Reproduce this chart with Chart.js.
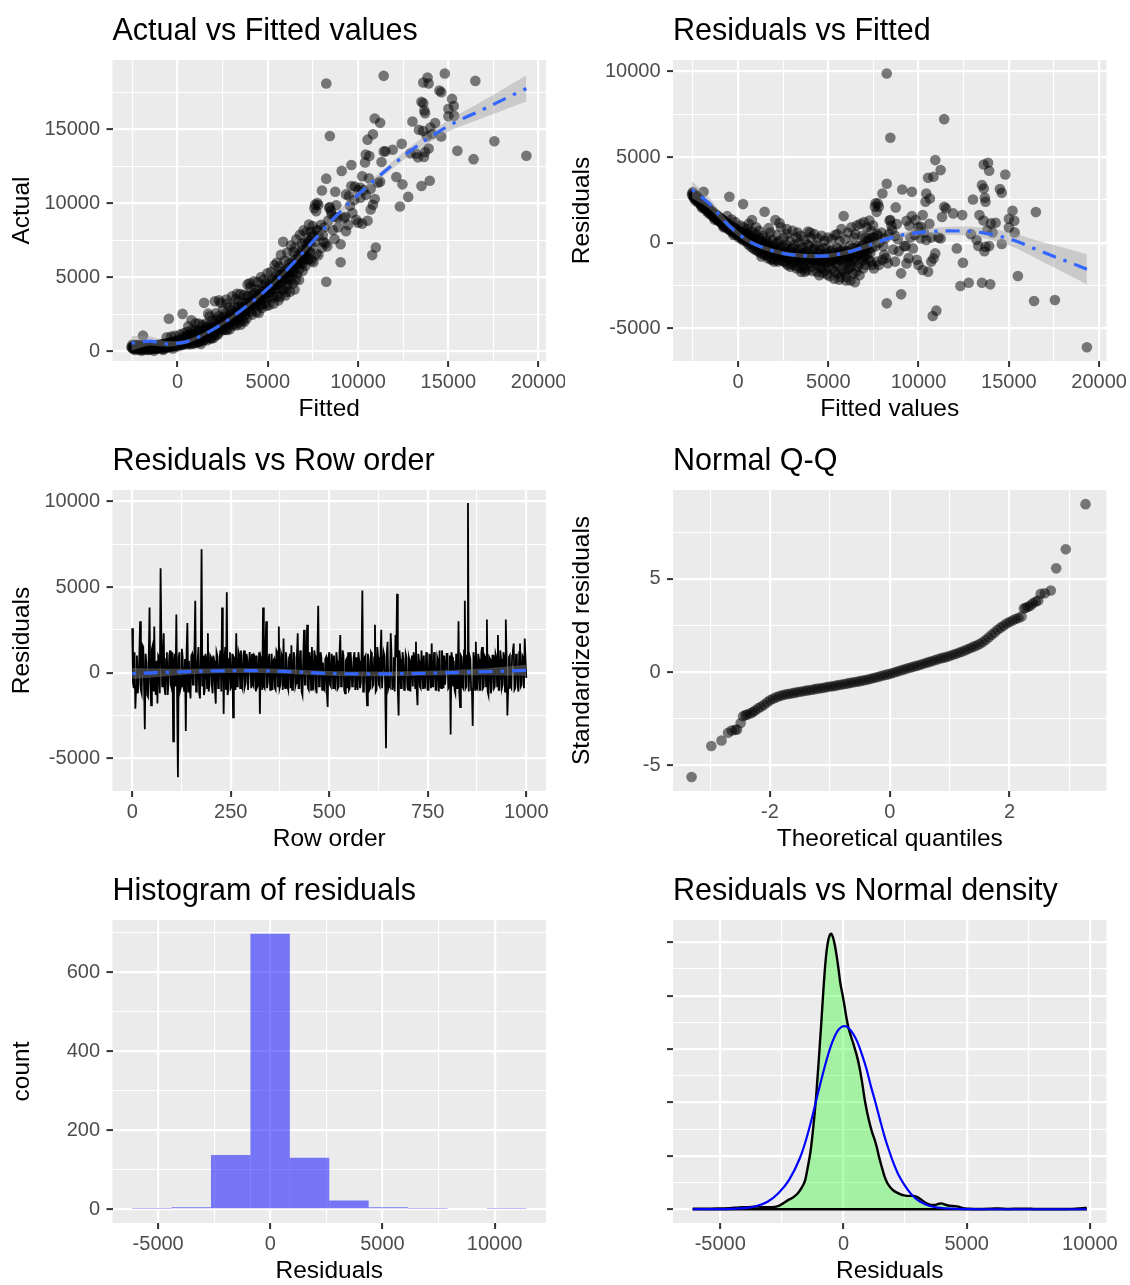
<!DOCTYPE html>
<html>
<head>
<meta charset="utf-8">
<script src="https://cdn.jsdelivr.net/npm/chart.js@4/dist/chart.umd.min.js"></script>
<style>
html, body { margin: 0; padding: 0; background: #fff; width: 1130px; height: 1285px; overflow: hidden; }
canvas { position: absolute; }
</style>
</head>
<body>
<canvas id="c1" width="565" height="430" style="left:0;top:0"></canvas>
<canvas id="c2" width="565" height="430" style="left:565px;top:0"></canvas>
<canvas id="c3" width="565" height="430" style="left:0;top:430px"></canvas>
<canvas id="c4" width="565" height="430" style="left:565px;top:430px"></canvas>
<canvas id="c5" width="565" height="430" style="left:0;top:860px"></canvas>
<canvas id="c6" width="565" height="430" style="left:565px;top:860px"></canvas>
<script>
// ---- Data ----

// (fitted, residual) pairs, grouped by fitted range
const residBandA = [[-2550,2850],[-2500,2950],[-2460,2700],[-2420,2800],[-2380,2600],[-2330,2750],[-2280,2500],[-2240,2650],
  [-2190,2420],[-2150,2560],[-2100,2300],[-2060,2450],[-2010,2200],[-2000,2050],[-1960,2350],[-1910,2973],[-1900,2100],
  [-1850,2250],[-1800,1980],[-1760,2150],[-1700,1900],[-1660,2050],[-1610,1780],[-1560,1950],[-1510,1700],[-1460,1850],
  [-1420,1600],[-1370,1780],[-1320,1500],[-1300,1350],[-1270,1680],[-1220,1420],[-1170,1600],[-1120,1330],[-1070,1520],
  [-1020,1250],[-970,1430],[-920,1150],[-870,1350],[-820,1080],[-800,900],[-770,1280],[-720,1000],[-670,1200],[-620,920],
  [-600,1550],[-570,1120],[-520,850],[-478,2681],[-470,1050],[-420,780],[-370,980],[-350,1350],[-320,700],[-270,900],
  [-250,450],[-220,620],[-170,850],[-150,1200],[-120,550],[-70,780],[-20,480]];
const residBandB = [[30,700],[80,380],[130,1000],[180,300],[230,650],[279,2254],[280,150],[330,900],[380,220],[430,550],
  [480,50],[530,800],[580,-100],[600,1100],[630,450],[680,150],[730,-250],[776,1321],[780,650],[830,-50],[880,300],
  [930,-400],[980,500],[1000,900],[1030,-150],[1080,200],[1130,-500],[1180,700],[1230,-250],[1280,100],[1300,-800],
  [1330,-600],[1380,400],[1430,-350],[1473,1807],[1480,-50],[1530,-700],[1580,300],[1630,-450],[1680,0],[1700,850],
  [1730,-800],[1780,600],[1830,-300],[1880,-950],[1930,150],[1980,-600],[2000,-1100],[2030,-100],[2069,1321],[2080,-1000],
  [2130,450],[2180,-400],[2230,-1100],[2280,100],[2300,1150],[2330,-700],[2380,900],[2430,-200],[2480,-1050]];
const residBandC = [[2530,300],[2580,-800],[2630,-300],[2680,-1200],[2700,800],[2730,500],[2780,-600],[2830,-1000],
  [2880,100],[2900,-1400],[2930,-400],[2980,-1250],[3030,700],[3080,-800],[3130,-100],[3180,-1350],[3230,300],[3280,-600],
  [3300,600],[3330,-1100],[3380,0],[3430,-1450],[3480,400],[3500,-1700],[3530,-800],[3580,-300],[3630,-1500],[3680,150],
  [3700,-1700],[3730,-1000],[3780,-500],[3830,-1600],[3880,650],[3930,-200],[3980,-1200],[4000,600],[4030,300],[4080,-800],
  [4130,-1650],[4180,-400],[4230,500],[4280,-1100],[4330,-150],[4380,-1700],[4430,250],[4480,-900],[4500,-1900],[4530,-400],
  [4580,-1450],[4630,400],[4680,-1750],[4730,-700],[4780,100],[4830,-1200],[4880,-300],[4930,-1850],[4980,300]];
const residBandD = [[5030,-1000],[5080,-1950],[5130,-500],[5180,200],[5230,-1500],[5280,-800],[5330,-2100],[5380,450],
  [5430,-1200],[5480,-300],[5500,500],[5530,-1800],[5580,-700],[5600,-2150],[5630,100],[5680,-2000],[5730,800],[5780,-1100],
  [5830,-400],[5851,1554],[5880,-1700],[5930,200],[5980,-2200],[6000,-2000],[6030,-900],[6080,600],[6130,-1500],[6180,-200],
  [6200,-1200],[6230,-2200],[6280,900],[6330,-1000],[6380,-1800],[6430,300],[6480,-2300],[6500,500],[6530,-600],[6580,1000],
  [6630,-1400],[6680,-200],[6730,-1900],[6780,1100],[6830,-900],[6880,400],[6930,-1500],[6980,1200],[7000,-800],[7030,-400],
  [7080,-1300],[7130,900],[7180,100],[7230,-1000],[7280,1300],[7330,-600],[7380,700],[7430,-1300],[7480,1000],[7530,-1500],
  [7580,2100],[7620,2300],[7680,1800],[7700,-1100],[7750,400]];
const residBandExtra = [[-2520,2750],[-2440,2600],[-2350,2450],[-2270,2700],[-2200,2350],[-2120,2500],[-2040,2150],
  [-1950,2280],[-1880,2000],[-1790,2150],[-1720,1820],[-1640,1950],[-1580,1680],[-1490,1800],[-1400,1550],[-1340,1700],
  [-1250,1450],[-1190,1580],[-1100,1280],[-1040,1450],[-950,1200],[-900,1350],[-830,1000],[-750,1180],[-700,900],
  [-640,1100],[-560,820],[-500,1000],[-440,720],[-390,900],[-300,600],[-200,800],[-100,450],[-40,700],[50,300],[150,600],
  [250,200],[350,500],[450,100],[550,550],[650,-50],[750,350],[850,-300],[950,150],[1050,-450],[1150,300],[1250,-600],
  [1350,0],[1450,-700],[1550,100],[1650,-900],[1750,-200],[1850,-1000],[1950,-300],[2050,-800],[2150,0],[2250,-1000],
  [2350,-300],[2450,-800],[2550,-1100],[2650,-100],[2750,-1300],[2850,-500],[2950,-900],[3050,-300],[3150,-1100],
  [3250,-1500],[3350,-400],[3450,-900],[3550,-1200],[3650,-600],[3750,-1300],[3850,-100],[3950,-900],[4050,-1400],
  [4150,-1000],[4250,-300],[4350,-1300],[4450,-600],[4550,-1100],[4650,-1500],[4750,-300],[4850,-1600],[4950,-800],
  [5050,-1400],[5150,-1100],[5250,-400],[5350,-1700],[5450,-900],[5550,-1300],[5650,-500],[5750,-1600],[5850,-1000],
  [5950,-500],[6050,-1600],[6150,-800],[6250,-1400],[6350,-300],[6450,-1100],[6550,-1700],[6650,-700],[6750,-1200],
  [6850,-200],[6950,-1000],[7050,300],[7150,-700],[7250,200],[7350,-1100],[7450,300]];
const residBandCore = [[-2400,2700],[-2300,2550],[-2150,2400],[-2050,2300],[-1750,2050],[-1550,1850],[-1350,1600],
  [-1150,1400],[-950,1300],[-750,1100],[-550,950],[-350,800],[-150,650],[0,550],[200,400],[400,300],[600,200],[800,100],
  [900,-100],[1020,-100],[1120,-250],[1220,-50],[1320,-300],[1420,-150],[1520,-400],[1620,-250],[1720,-500],[1820,-350],
  [1920,-600],[2020,-450],[2120,-700],[2220,-500],[2320,-800],[2420,-600],[2520,-750],[2620,-550],[2720,-850],[2820,-650],
  [2920,-800],[3020,-950],[3120,-600],[3220,-900],[3320,-750],[3420,-1000],[3520,-600],[3620,-900],[3720,-750],
  [3820,-1000],[3920,-650],[4020,-950],[4120,-700],[4220,-1050],[4320,-800],[4420,-1000],[4520,-700],[4620,-1100],
  [4720,-850],[4820,-1000],[4920,-600],[5020,-1100],[5120,-800],[5220,-1000],[5320,-600],[5420,-950],[5520,-700],
  [5620,-1000],[5720,-500],[5820,-900],[5920,-700],[6020,-1100],[6120,-500],[6220,-800],[6320,-600],[6420,-900],
  [6520,-300],[6620,-700],[6720,-400],[6820,-600],[6920,-100],[7020,-500],[7120,-200],[7220,-400],[7320,100],[7420,-300],
  [7520,300],[7620,-200],[7720,500],[7820,0]];
const residSparse = [[7742,2293],[7802,2099],[7802,-1302],[7950,600],[8000,2876],[8000,-1000],[8050,-200],[8100,-700],
  [8140,253],[8200,-900],[8239,3439],[8239,9870],[8239,-3536],[8300,-1200],[8350,500],[8400,1300],[8438,6120],[8438,1321],
  [8500,1000],[8537,738],[8600,-400],[8700,-1100],[8700,400],[8736,2060],[8796,1088],[8850,200],[8900,-500],[9035,-3012],
  [9035,-1788],[9094,3109],[9200,-200],[9293,-194],[9333,-1205],[9333,1282],[9450,-900],[9500,1000],[9550,300],[9631,2973],
  [9631,1554],[9691,-330],[9790,447],[9830,1321],[9900,-1000],[10000,900],[10000,-1300],[10129,253],[10129,933],
  [10229,-1593],[10229,1613],[10300,600],[10388,2390],[10428,2876],[10428,155],[10527,3789],[10527,-1690],[10600,1100],
  [10627,2584],[10700,-1100],[10700,300],[10786,-4275],[10826,3847],[10826,-913],[10925,4819],[10925,-622],[10985,-3964],
  [11100,300],[11224,4236],[11224,253],[11300,1500],[11420,7210],[11423,2099],[11523,2001],[11920,1710],[12120,-330],
  [12319,-2526],[12418,1613],[12458,-1166],[12777,-2332],[12900,500],[13014,2526],[13214,155],[13313,-194],[13373,1613],
  [13512,3361],[13512,-2332],[13600,1300],[13612,4566],[13612,3167],[13650,-500],[13671,2623],[13711,2390],[13711,-233],
  [13811,738],[13850,4663],[13910,4197],[13910,-194],[13970,-2429],[14010,1127],[14100,600],[14268,1166],[14508,3128],
  [14607,2914],[14607,-78],[14806,3983],[15005,1399],[15005,894],[15204,1865],[15303,1282],[15323,602],[15502,-1943],
  [16398,-3400],[16498,1788],[17552,-3342],[19323,-6101]];

// loess smooth of residuals on fitted, with standard-error half width
const smoothFitted = [-2550, -2000, -1500, -1000, -500, 0, 500, 1000, 1500, 2500, 3500, 4500, 5500, 6500,
  7500, 8500, 9500, 10500, 11500, 12500, 13500, 14500, 15500, 16500, 17500, 18500, 19323];
const smoothResid = [3100, 2650, 2200, 1580, 1000, 550, 150, -120, -330, -620, -750, -780, -680, -420,
  -60, 300, 520, 640, 690, 680, 590, 380, 60, -380, -800, -1200, -1550];
const smoothSe = [500, 380, 300, 230, 180, 150, 130, 120, 120, 120, 120, 120, 120, 130,
  140, 150, 180, 200, 230, 260, 300, 350, 420, 520, 650, 780, 880];

// residuals by row order: rows 0, 4, 8, ... and rows 2, 6, 10, ...
const rowStep = 4;
const rowResid = [
  2600, -900, -2100, 1000, -700, 3000, -1200, 1500, -3300, 600,
  -1400, 3800, -1900, 1600, 2700, -1300, -1800, 900, 6100, -800,
  2300, -1300, 1200, -600, 1300, -900, -4000, 1100, 3400, -6100,
  1200, -800, 900, -1100, -3400, 2900, 700, -1500, 1100, -700,
  4200, -900, 1500, -1500, 7200, 1000, -1000, 800, 2300, -700,
  900, -1200, 700, -1800, 1000, -600, 1300, 3800, -2400, 1500,
  4700, -1000, 1200, -800, -2600, 800, 2300, -700, 1000, 1300,
  -900, 1300, -600, 800, -1000, 600, 1100, -800, 900, 1000,
  -700, -2400, 700, 3800, -900, 3000, -600, 1100, -800, -1000,
  800, -1000, 1200, 2700, -700, 900, 2000, -900, 700, -1000,
  1100, 1600, -800, 900, -600, 2300, -900, 1000, -1300, 2500,
  -700, 2800, -1000, 800, 1500, -900, 1000, -1200, 3900, -700,
  900, 600, -1000, 900, -2000, 1200, -800, 800, 1000, -900,
  700, -800, 2200, -600, 1000, -1200, 800, 1200, -900, 600,
  -700, 1200, 900, -1000, 700, -600, 4800, -800, 1000, -1900,
  800, -900, 1100, -700, 2800, -1000, 900, -800, 2500, -900,
  1000, -4400, 1800, -700, 2300, -1000, 900, 2200, 4600, -2500,
  800, -900, 800, -700, 900, -1000, 700, 600, -800, 900,
  1800, -1900, 700, -900, 600, 1000, -800, 900, -1000, 800,
  1700, -800, 900, -1000, 700, 1300, -900, 800, 1000, -700,
  1100, -800, -3600, 900, 700, -1200, -900, 3000, -2000, 900,
  -900, 4200, -800, 9900, 1000, -1000, -3100, 800, 1800, -900,
  800, -1000, 1500, -800, 900, 3100, -1300, 800, -900, 1000,
  -800, 900, 2200, -1000, 800, -700, 900, 3100, -2500, 900,
  -800, 1000, 1700, -900, 800, -1100, 1700, -700, 900, 2000,
  -300];
const rowResidMid = [
  -600, 1200, -800, -1200, 900, -1000, 1600, -700, 1100, -1300,
  900, -700, 1400, -1100, -900, 700, 1000, -1200, 2000, 1100,
  -900, 800, -1300, 1000, -700, 1200, 600, -800, -1500, 900,
  -1000, 1400, -700, 800, 1200, -1100, -900, 1000, -700, 1300,
  -1100, 600, -1200, 900, -800, -1300, 1100, -900, -1100, 1000,
  -700, 1000, -1000, 1200, -900, 900, -1100, 1600, 700, -1000,
  -1300, 800, -900, 1100, 900, -1000, -800, 1200, -900, -700,
  1000, -800, 1100, -1000, 1200, -900, -700, 1000, -1100, -800,
  1200, 900, -1000, -800, 1300, -900, 800, -1000, 1100, 700,
  -900, 1300, -800, -900, 1100, -1000, -700, 1200, -800, 900,
  -900, -1000, 1200, -800, 1000, -900, 1300, -1100, 900, -700,
  1100, -900, 1200, -1000, -800, 1300, -900, 1000, -800, 1200,
  -1000, -900, 800, -1200, 900, -700, 1100, -900, -800, 1200,
  -900, 1100, -800, 1300, -1000, 700, -900, -1000, 1200, -800,
  900, -1000, -700, 1200, -900, 1000, -1100, 900, -700, 1100,
  -1000, 1200, -800, 900, -1100, 1500, -700, 1000, -900, 1200,
  -800, 1100, -900, -800, 1000, -700, -1100, 900, -1000, 1300,
  -900, 1200, -1000, 1100, -800, 900, -1100, 1000, 1200, -900,
  -1000, 1100, -800, 1300, -900, -700, 1200, -1000, 1100, -900,
  -800, 1200, -1000, 900, -1100, -800, 1300, -900, -700, 1100,
  -900, 1000, 1200, -800, -1000, 1100, -900, -1200, 1000, -800,
  1300, -900, 1000, -1100, 800, -900, 1200, -1000, -800, 1100,
  -1000, 1200, -900, 1000, -800, -1100, 900, -1200, 1000, -900,
  1100, -800, -1000, 1300, -900, 1200, -1100, 800, -900, 1000,
  -900, 1300, -1000, 1100, -700, 1200, -800, 1000, -900, 800];
const rowSmoothX = [0, 100, 200, 300, 400, 500, 600, 700, 800, 900, 1000];
const rowSmoothY = [-50, 30, 100, 120, 60, -40, -70, -50, 0, 60, 140];
const rowSmoothSe = [320, 200, 150, 140, 140, 140, 140, 140, 150, 200, 320];

// Normal Q-Q: (theoretical quantile, standardized residual)
const qqPoints = [[-3.31,-5.63],[-2.98,-3.97],[-2.81,-3.67],[-2.70,-3.26],[-2.64,-3.14],[-2.58,-3.10],[-2.55,-3.08],
  [-2.49,-2.73],[-2.45,-2.37],[-2.41,-2.31],[-2.38,-2.28],[-2.33,-2.22],[-2.29,-2.16],[-2.25,-2.07],
  [-2.20,-1.95],[-2.15,-1.86],[-2.10,-1.76],[-2.05,-1.63],[-2.00,-1.52],[-1.95,-1.43],[-1.90,-1.36],[-1.85,-1.30],
  [-1.80,-1.25],[-1.75,-1.21],[-1.70,-1.18],[-1.65,-1.15],[-1.60,-1.12],[-1.55,-1.09],[-1.50,-1.06],[-1.45,-1.03],
  [-1.40,-1.00],[-1.35,-0.98],[-1.30,-0.95],[-1.25,-0.92],[-1.20,-0.89],[-1.15,-0.87],[-1.10,-0.84],[-1.05,-0.81],
  [-1.00,-0.78],[-0.95,-0.76],[-0.90,-0.73],[-0.85,-0.70],[-0.80,-0.67],[-0.75,-0.64],[-0.70,-0.61],[-0.65,-0.58],
  [-0.60,-0.55],[-0.55,-0.52],[-0.50,-0.49],[-0.45,-0.46],[-0.40,-0.43],[-0.35,-0.39],[-0.30,-0.35],[-0.25,-0.31],
  [-0.20,-0.27],[-0.15,-0.22],[-0.10,-0.18],[-0.05,-0.14],[0.00,-0.10],[0.05,-0.05],[0.10,0.00],[0.15,0.05],
  [0.20,0.10],[0.25,0.15],[0.30,0.20],[0.35,0.24],[0.40,0.29],[0.45,0.33],[0.50,0.38],[0.55,0.43],[0.60,0.48],
  [0.65,0.53],[0.70,0.58],[0.75,0.63],[0.80,0.68],[0.85,0.73],[0.90,0.77],[0.95,0.81],[1.00,0.86],[1.05,0.92],
  [1.10,0.97],[1.15,1.03],[1.20,1.09],[1.25,1.15],[1.30,1.22],[1.35,1.29],[1.40,1.36],[1.45,1.42],[1.50,1.50],
  [1.55,1.60],[1.60,1.72],[1.65,1.85],[1.70,1.99],[1.75,2.12],[1.80,2.27],[1.85,2.38],[1.90,2.48],[1.95,2.60],
  [2.00,2.68],[2.05,2.76],[2.10,2.84],[2.15,2.90],[2.20,2.98],[2.24,3.40],[2.27,3.45],[2.31,3.50],[2.35,3.56],
  [2.39,3.69],[2.44,3.78],[2.48,3.83],[2.52,4.19],[2.59,4.22],[2.69,4.37],[2.78,5.56],[2.94,6.58],[3.27,9.00]];

// histogram (10 bins)
const histCenters = [-5280, -3523, -1766, -9, 1748, 3505, 5262, 7019, 8776, 10533];
const histCounts = [1, 5, 137, 697, 130, 22, 5, 1, 0, 1];

// kernel density of residuals and fitted normal density (units of 1e-4)
const densityPts = [[-6117,0.01],[-5500,0.01],[-5000,0.015],[-4600,0.02],[-4250,0.035],[-3900,0.04],[-3500,0.05],
  [-3200,0.04],[-2900,0.04],[-2650,0.06],[-2450,0.11],[-2250,0.17],[-2050,0.22],[-1850,0.30],[-1700,0.40],[-1550,0.55],
  [-1450,0.78],[-1330,1.10],[-1220,1.55],[-1110,2.10],[-1000,2.80],[-890,3.55],[-800,4.20],[-715,4.70],[-640,4.98],
  [-560,5.13],[-496,5.16],[-430,5.10],[-350,4.95],[-277,4.75],[-200,4.50],[-131,4.25],[-50,4.05],[29,3.85],[110,3.62],
  [204,3.40],[300,3.25],[423,3.07],[530,2.90],[642,2.68],[750,2.40],[861,2.06],[970,1.80],[1080,1.58],[1170,1.43],
  [1270,1.30],[1360,1.15],[1445,0.98],[1550,0.80],[1664,0.62],[1770,0.50],[1883,0.42],[2030,0.35],[2175,0.31],
  [2320,0.28],[2467,0.26],[2650,0.25],[2832,0.25],[2980,0.23],[3124,0.19],[3270,0.14],[3416,0.10],[3560,0.08],
  [3708,0.08],[3850,0.10],[3960,0.11],[4100,0.09],[4250,0.07],[4450,0.06],[4657,0.05],[4850,0.02],[5100,0.01],
  [5500,0.005],[6000,0.01],[6300,0.015],[6700,0.005],[7100,0.01],[7400,0.012],[7800,0.004],[8300,0.003],[8800,0.003],
  [9300,0.006],[9700,0.02],[9876,0.025]];
const normalPts = [[-6117,0],[-5000,0.003],[-4500,0.008],[-4000,0.02],[-3518,0.06],[-3080,0.14],[-2642,0.30],
  [-2204,0.55],[-1766,0.96],[-1550,1.25],[-1328,1.62],[-1100,2.05],[-890,2.44],[-670,2.82],[-453,3.13],[-250,3.33],
  [-60,3.42],[58,3.43],[200,3.40],[400,3.28],[569,3.13],[750,2.90],[934,2.63],[1100,2.33],[1299,2.00],[1480,1.68],
  [1664,1.37],[1850,1.10],[2029,0.87],[2250,0.63],[2467,0.46],[2700,0.31],[2905,0.21],[3120,0.14],[3343,0.09],
  [3600,0.05],[3927,0.025],[4400,0.01],[5000,0.003],[6000,0],[9876,0]];

// ---- Styling ----
const FONT = "'Liberation Sans', Arial, Helvetica, sans-serif";
Chart.defaults.font.family = FONT;

const SMOOTH_BLUE = '#3366FF';
const RIBBON = 'rgba(153, 153, 153, 0.4)';
const POINT_FILL = 'rgba(0, 0, 0, 0.5)';

// panel geometry (columns / rows)
const LEFT_COL = { areaLeft: 112.5, padRight: 19, yTitlePad: 7.3 };
const RIGHT_COL = { areaLeft: 108, padRight: 23.5, yTitlePad: 2.3 };
const ROW_UPPER = { xHeight: 69, xLabelPad: 3, xTitlePad: 6.5 };
const ROW_LOWER = { xHeight: 67, xLabelPad: 3.5, xTitlePad: 3.6 };

// grey panel background
const panelBg = {
    id: 'panelBg',
    beforeDraw(chart) {
        const { ctx, chartArea: a } = chart;
        ctx.save();
        ctx.fillStyle = '#EBEBEB';
        ctx.fillRect(a.left, a.top, a.right - a.left, a.bottom - a.top);
        ctx.restore();
    }
};

const isMajor = (v, majors) => majors.some(m => Math.abs(m - v) < 1e-6);

function makeScale(position, o) {
    const all = o.majors.concat(o.minors).filter(v => v >= o.min && v <= o.max).sort((a, b) => a - b);
    const major = c => !!(c.tick && isMajor(c.tick.value, o.majors));
    return {
        type: 'linear',
        position: position,
        min: o.min,
        max: o.max,
        offset: false,
        afterBuildTicks: s => { s.ticks = all.map(v => ({ value: v })); },
        afterFit: s => {
            if (position === 'left') s.width = o.size; else s.height = o.size;
            s.paddingLeft = 0; s.paddingRight = 0; s.paddingTop = 0; s.paddingBottom = 0;
        },
        border: { display: false },
        grid: {
            offset: false,
            color: '#FFFFFF',
            lineWidth: c => major(c) ? 2.2 : 1.1,
            drawTicks: true,
            tickLength: 6,
            tickWidth: 2,
            tickColor: c => major(c) ? '#333333' : 'rgba(0,0,0,0)'
        },
        ticks: {
            autoSkip: false,
            maxRotation: 0,
            padding: o.labelPad,
            color: '#4D4D4D',
            font: { family: FONT, size: 20 },
            callback: v => (o.labels !== false && isMajor(v, o.majors)) ? String(v) : ''
        },
        title: {
            display: true,
            text: o.title,
            color: '#000000',
            font: { family: FONT, size: 24.5 },
            padding: { top: o.titlePad, bottom: o.titlePad }
        }
    };
}

function buildChart(id, col, row, title, type, datasets, xOpt, yOpt) {
    return new Chart(document.getElementById(id), {
        type: type,
        data: { datasets: datasets },
        options: {
            responsive: false,
            animation: false,
            events: [],
            layout: { padding: { left: 0, top: 0, bottom: 0, right: col.padRight } },
            plugins: {
                legend: { display: false },
                tooltip: { enabled: false },
                title: {
                    display: true,
                    text: title,
                    align: 'start',
                    fullSize: false,
                    color: '#000000',
                    font: { family: FONT, size: 30.5, weight: 'normal', lineHeight: 1.2 },
                    padding: { top: 13.5, bottom: 9.9 }
                }
            },
            scales: {
                x: makeScale('bottom', Object.assign({ size: row.xHeight, labelPad: row.xLabelPad, titlePad: row.xTitlePad }, xOpt)),
                y: makeScale('left', Object.assign({ size: col.areaLeft, labelPad: 6.5, titlePad: col.yTitlePad }, yOpt))
            }
        },
        plugins: [panelBg]
    });
}

function pointSet(data, order) {
    return {
        data: data, showLine: false, order: order,
        pointRadius: 5.3, pointBackgroundColor: POINT_FILL,
        pointBorderWidth: 0, pointBorderColor: 'rgba(0,0,0,0)', borderWidth: 0
    };
}

function lineSet(data, color, width, order, extra) {
    return Object.assign({
        data: data, showLine: true, order: order,
        borderColor: color, borderWidth: width, pointRadius: 0,
        fill: false, cubicInterpolationMode: 'monotone'
    }, extra || {});
}

// smooth line + ribbon datasets (upper fills to lower)
function smoothSets(xs, ys, se) {
    const upper = xs.map((x, i) => ({ x: x, y: ys[i] + se[i] }));
    const lower = xs.map((x, i) => ({ x: x, y: ys[i] - se[i] }));
    const mid = xs.map((x, i) => ({ x: x, y: ys[i] }));
    return [
        lineSet(mid, SMOOTH_BLUE, 3.2, 0, { borderDash: [3.5, 8, 14, 8] }),
        lineSet(upper, 'rgba(0,0,0,0)', 0, 1, { fill: '+1', backgroundColor: RIBBON }),
        lineSet(lower, 'rgba(0,0,0,0)', 0, 1)
    ];
}

// ---- Build ----
const fitResid = [].concat(residBandA, residBandB, residBandC, residBandD, residBandExtra, residBandCore, residSparse);
const actualVsFitted = fitResid.map(p => ({ x: p[0], y: p[0] + p[1] }));
const residVsFitted = fitResid.map(p => ({ x: p[0], y: p[1] }));
const smoothActual = smoothFitted.map((f, i) => f + smoothResid[i]);

const FIT_X = { min: -3600, max: 20410, majors: [0, 5000, 10000, 15000, 20000], minors: [-2500, 2500, 7500, 12500, 17500] };
const RES_Y = { min: -6900, max: 10660, majors: [-5000, 0, 5000, 10000], minors: [-2500, 2500, 7500] };

// 1. Actual vs Fitted
buildChart('c1', LEFT_COL, ROW_UPPER, 'Actual vs Fitted values', 'scatter',
    [pointSet(actualVsFitted, 2)].concat(smoothSets(smoothFitted, smoothActual, smoothSe)),
    Object.assign({ title: 'Fitted' }, FIT_X),
    { title: 'Actual', min: -650, max: 19700, majors: [0, 5000, 10000, 15000], minors: [2500, 7500, 12500, 17500] });

// 2. Residuals vs Fitted
buildChart('c2', RIGHT_COL, ROW_UPPER, 'Residuals vs Fitted', 'scatter',
    [pointSet(residVsFitted, 2)].concat(smoothSets(smoothFitted, smoothResid, smoothSe)),
    Object.assign({ title: 'Fitted values' }, FIT_X),
    Object.assign({ title: 'Residuals' }, RES_Y));

// 3. Residuals vs Row order
const rowData = [];
rowResid.forEach((r, i) => {
    rowData.push({ x: i * rowStep, y: r });
    if (i < rowResidMid.length) rowData.push({ x: i * rowStep + rowStep / 2, y: rowResidMid[i] });
});
buildChart('c3', LEFT_COL, ROW_UPPER, 'Residuals vs Row order', 'scatter',
    [lineSet(rowData, '#000000', 1.8, 2, { cubicInterpolationMode: 'default', tension: 0 })]
        .concat(smoothSets(rowSmoothX, rowSmoothY, rowSmoothSe)),
    { title: 'Row order', min: -50, max: 1050, majors: [0, 250, 500, 750, 1000], minors: [125, 375, 625, 875] },
    Object.assign({ title: 'Residuals' }, RES_Y));

// 4. Normal Q-Q
buildChart('c4', RIGHT_COL, ROW_UPPER, 'Normal Q-Q', 'scatter',
    [pointSet(qqPoints.map(p => ({ x: p[0], y: p[1] })), 0)],
    { title: 'Theoretical quantiles', min: -3.62, max: 3.62, majors: [-2, 0, 2], minors: [-3, -1, 1, 3] },
    { title: 'Standardized residuals', min: -6.38, max: 9.76, majors: [-5, 0, 5], minors: [-2.5, 2.5, 7.5] });

// 5. Histogram of residuals
buildChart('c5', LEFT_COL, ROW_LOWER, 'Histogram of residuals', 'bar',
    [{
        data: histCenters.map((c, i) => ({ x: c, y: histCounts[i] })),
        backgroundColor: 'rgba(0, 0, 255, 0.5)',
        borderWidth: 0,
        inflateAmount: 0,
        barPercentage: 1,
        categoryPercentage: 1
    }],
    { title: 'Residuals', min: -7036, max: 12289, majors: [-5000, 0, 5000, 10000], minors: [-2500, 2500, 7500] },
    { title: 'count', min: -34.85, max: 731.85, majors: [0, 200, 400, 600], minors: [100, 300, 500, 700] });

// 6. Residuals vs Normal density
const densData = densityPts.map(p => ({ x: p[0], y: p[1] }));
const densBase = [{ x: densityPts[0][0], y: 0 }, { x: densityPts[densityPts.length - 1][0], y: 0 }];
buildChart('c6', RIGHT_COL, ROW_LOWER, 'Residuals vs Normal density', 'scatter',
    [
        lineSet(normalPts.map(p => ({ x: p[0], y: p[1] })), '#0000FF', 2.2, 0),
        lineSet(densBase, '#000000', 2.4, 1),
        lineSet(densData, '#000000', 2.4, 2, { fill: 'origin', backgroundColor: 'rgba(0, 255, 0, 0.3)' })
    ],
    { title: 'Residuals', min: -6917, max: 10676, majors: [-5000, 0, 5000, 10000], minors: [-2500, 2500, 7500] },
    { title: '', min: -0.258, max: 5.418, majors: [0, 1, 2, 3, 4, 5], minors: [0.5, 1.5, 2.5, 3.5, 4.5], labels: false });
</script>
</body>
</html>
